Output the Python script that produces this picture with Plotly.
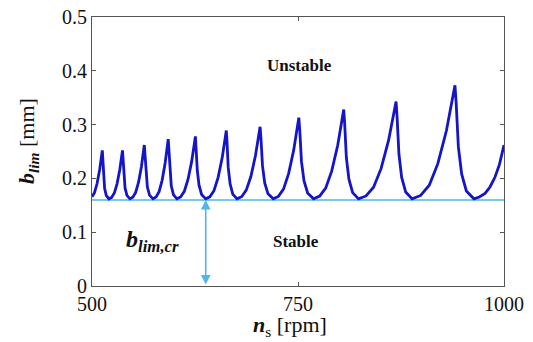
import plotly.graph_objects as go

# ---- data ----
n_s_rpm = [
    500, 502.9, 506.1, 509.3, 512.5,
    512.98, 513.94, 515.3, 517.3, 520.5,
    523.8, 527.1, 530.4, 533.7, 537,
    537.54, 538.62, 540.15, 542.4, 546,
    549.5, 553, 556.5, 560, 563.5,
    564.13, 565.39, 567.2, 569.8, 574,
    577.7, 581.4, 585.1, 588.8, 592.5,
    593.1, 594.4, 596.2, 598.8, 603,
    607.5, 612, 616.5, 621, 625.5,
    626.25, 627.75, 629.9, 633, 638,
    643, 648, 653, 658, 663,
    663.8, 665.3, 667.6, 670.8, 676,
    681.6, 687.2, 692.8, 698.4, 704,
    705, 706.9, 709.6, 713.6, 720,
    726.2, 732.4, 738.6, 744.8, 751,
    752.1, 754.2, 757.3, 761.8, 769,
    776.3, 783.6, 790.9, 798.2, 805.5,
    806.6, 808.7, 811.8, 816.3, 823.5,
    832.6, 841.7, 850.8, 859.9, 869,
    870.2, 872.5, 875.8, 880.7, 888.5,
    898.9, 909.3, 919.7, 930.1, 940.5,
    941.9, 944.6, 948.6, 954.3, 963.5,
    970, 977, 983, 989, 994.5, 1000,
]
b_lim_mm = [
    0.166, 0.173, 0.190, 0.216, 0.252,
    0.2385, 0.2034, 0.1818, 0.1683, 0.162,
    0.1647, 0.1728, 0.1899, 0.216, 0.252,
    0.2385, 0.2034, 0.1818, 0.1683, 0.162,
    0.165, 0.174, 0.193, 0.222, 0.262,
    0.247, 0.208, 0.184, 0.169, 0.162,
    0.1653, 0.1753, 0.1964, 0.2286, 0.273,
    0.2563, 0.2131, 0.1864, 0.1698, 0.162,
    0.1655, 0.1759, 0.198, 0.2316, 0.278,
    0.2606, 0.2154, 0.1875, 0.1701, 0.162,
    0.1658, 0.1772, 0.2014, 0.2382, 0.289,
    0.2700, 0.2204, 0.1899, 0.1709, 0.162,
    0.166, 0.1781, 0.2035, 0.2424, 0.296,
    0.2759, 0.2236, 0.1915, 0.1714, 0.162,
    0.1665, 0.1801, 0.2088, 0.2526, 0.313,
    0.2904, 0.2315, 0.1952, 0.1726, 0.162,
    0.167, 0.1819, 0.2135, 0.2616, 0.328,
    0.3031, 0.2384, 0.1985, 0.1736, 0.162,
    0.1674, 0.1837, 0.2181, 0.2706, 0.343,
    0.3159, 0.2453, 0.2018, 0.1747, 0.162,
    0.1683, 0.1873, 0.2274, 0.2886, 0.373,
    0.3414, 0.259, 0.2084, 0.1767, 0.162,
    0.1655, 0.172, 0.184, 0.202, 0.226, 0.262,
]
x_range = [500, 1000]
y_range = [0, 0.5]
x_ticks = [500, 750, 1000]
y_ticks = [0, 0.1, 0.2, 0.3, 0.4, 0.5]
b_lim_cr = 0.16
arrow_rpm = 638
unstable_pos = (752, 0.41)
stable_pos = (748, 0.082)
blimcr_pos = (574, 0.083)

FONT = "Liberation Serif"
LIGHT = "#4DB8E8"
BLUE = "#1414C8"

W, H = 533, 342
L, R, T, B = 92, 29, 17, 56
PW, PH = W - L - R, H - T - B


def px_to_paper(px, py):
    return (px - L) / PW, (H - B - py) / PH


fig = go.Figure()
fig.add_trace(go.Scatter(x=x_range, y=[b_lim_cr, b_lim_cr], mode="lines",
                         line=dict(color=LIGHT, width=1.5), hoverinfo="skip"))
fig.add_trace(go.Scatter(x=n_s_rpm, y=b_lim_mm, mode="lines",
                         line=dict(color=BLUE, width=2.8)))

axis_common = dict(showgrid=False, zeroline=False, showline=True, linecolor="#555",
                   linewidth=1, mirror="ticks", ticks="inside", ticklen=4,
                   tickcolor="#555", tickfont=dict(family=FONT, size=20, color="#111"))
fig.update_xaxes(range=x_range, tickvals=x_ticks, ticktext=[str(v) for v in x_ticks], **axis_common)
fig.update_yaxes(range=y_range, tickvals=y_ticks, ticktext=[("%g" % v) for v in y_ticks], **axis_common)

ytx, yty = px_to_paper(28, 141)
xtx, xty = px_to_paper(290, 326)

anns = [
    dict(x=unstable_pos[0], y=unstable_pos[1], xref="x", yref="y", text="<b>Unstable</b>",
         showarrow=False, font=dict(family=FONT, size=17, color="#111")),
    dict(x=stable_pos[0], y=stable_pos[1], xref="x", yref="y", text="<b>Stable</b>",
         showarrow=False, font=dict(family=FONT, size=17, color="#111")),
    dict(x=blimcr_pos[0], y=blimcr_pos[1], xref="x", yref="y",
         text="<b><i>b</i></b><sub><b><i>lim,cr</i></b></sub>",
         showarrow=False, font=dict(family=FONT, size=24, color="#111")),
    dict(x=arrow_rpm, y=b_lim_cr, ax=arrow_rpm, ay=0, xref="x", yref="y", axref="x", ayref="y",
         text="", showarrow=True, arrowhead=2, arrowside="end+start", arrowsize=1.2,
         arrowwidth=1.6, arrowcolor=LIGHT, standoff=0, startstandoff=0),
    dict(x=ytx, y=yty, xref="paper", yref="paper", xanchor="center", yanchor="middle",
         text="<b><i>b</i></b><sub><b><i>lim</i></b></sub> [mm]", textangle=-90, showarrow=False,
         font=dict(family=FONT, size=22, color="#111")),
    dict(x=xtx, y=xty, xref="paper", yref="paper", xanchor="center", yanchor="middle",
         text="<b><i>n</i></b><sub>s</sub> [rpm]", showarrow=False,
         font=dict(family=FONT, size=22, color="#111")),
]
fig.update_layout(annotations=anns, width=W, height=H, showlegend=False,
                  margin=dict(l=L, r=R, t=T, b=B, autoexpand=False),
                  plot_bgcolor="white", paper_bgcolor="white")
fig.write_html("out.html", config={"displayModeBar": False},
               post_script="document.body.style.margin='0';document.body.style.overflow='hidden';")
